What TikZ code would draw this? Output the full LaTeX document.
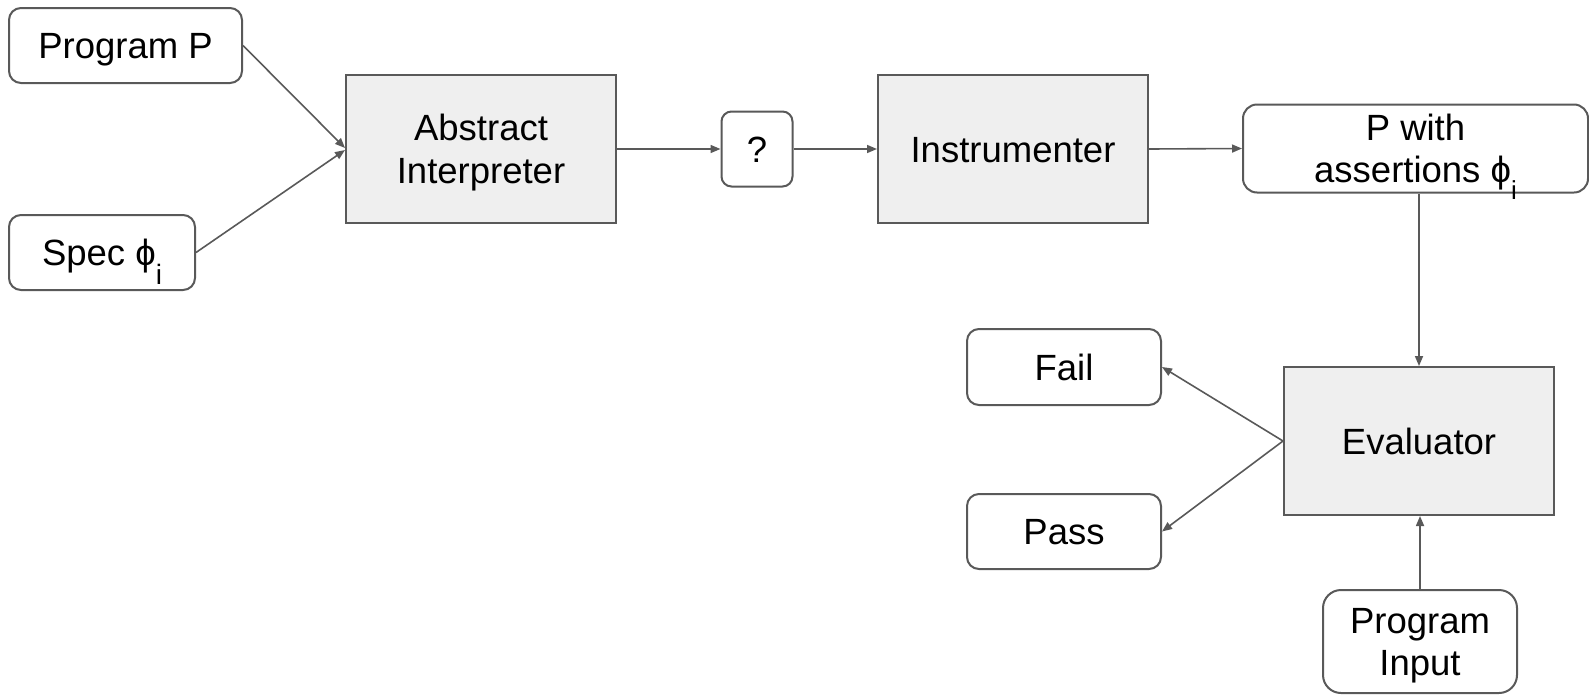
\documentclass[tikz,border=0pt]{standalone}
\usepackage{fontspec}
\setmainfont{Liberation Sans}
\usetikzlibrary{arrows.meta}
\definecolor{edge}{HTML}{595959}
\definecolor{boxfill}{HTML}{EFEFEF}
% phi with a lowered index: #1 = index size, #2 = drop below the baseline
\newcommand{\phisub}[2]{ϕ\raisebox{-#2}[0pt][0pt]{\fontsize{#1}{#1}\selectfont i}}
\begin{document}
\begin{tikzpicture}[x=1pt,y=-1pt,
  every node/.style={font=\fontsize{36.5}{43.3}\selectfont, align=center, inner sep=0pt, text=black},
  oneline/.style={text height=30pt, text depth=4pt},
  twoline/.style={text height=#1, text depth=4pt},
  twoline/.default=73.3pt,
  stage/.style={draw=edge, line width=2pt, fill=boxfill, minimum width=270pt, minimum height=148pt},
  term/.style={draw=edge, line width=2pt, fill=white, rounded corners=#1},
  term/.default=12pt,
  flow/.style={draw=edge, line width=1.6pt, -{Triangle[length=10pt,width=8pt]}}
]
\useasboundingbox (0,0) rectangle (1589,694);

% inputs
\node[term, oneline, minimum width=233pt, minimum height=75pt] (pp) at (125.5,45.5) {Program P};
\node[term, oneline, minimum width=186pt, minimum height=75pt] (spec) at (102,252.5) {Spec \phisub{28pt}{19pt}};

% main pipeline
\node[stage, twoline] (ai) at (481,149) {Abstract\\Interpreter};
\node[term=10pt, oneline, minimum width=71pt, minimum height=75pt] (q) at (757,149) {?};
\node[stage, oneline] (inst) at (1013,149) {Instrumenter};
\node[term=14pt, twoline=71.5pt, font=\fontsize{36.5}{41.5}\selectfont, minimum width=345pt, minimum height=88pt] (pw) at (1415.5,148.5) {P with\\assertions \phisub{26pt}{17pt}};

% evaluation
\node[stage, oneline] (ev) at (1419,441) {Evaluator};
\node[term, oneline, minimum width=194pt, minimum height=76pt] (fail) at (1064,367) {Fail};
\node[term, oneline, minimum width=194pt, minimum height=75pt] (pass) at (1064,531.5) {Pass};
\node[term=18pt, twoline=71.5pt, font=\fontsize{36.5}{41.5}\selectfont, minimum width=194pt, minimum height=103pt] (pin) at (1420,641.5) {Program\\Input};

% connectors
\draw[flow] (pp.east) -- ([yshift=1pt]ai.west);
\draw[flow] (spec.east) -- ([yshift=-1pt]ai.west);
\draw[flow] (ai.east) -- (q.west);
\draw[flow] (q.east) -- (inst.west);
\draw[flow] (inst.east) -- (pw.west);
\draw[flow] (pw.south -| ev.north) -- (ev.north);
\draw[flow] (pin.north) -- (pin.north |- ev.south);
\draw[flow] (ev.west) -- (fail.east);
\draw[flow] (ev.west) -- (pass.east);
\end{tikzpicture}
\end{document}
